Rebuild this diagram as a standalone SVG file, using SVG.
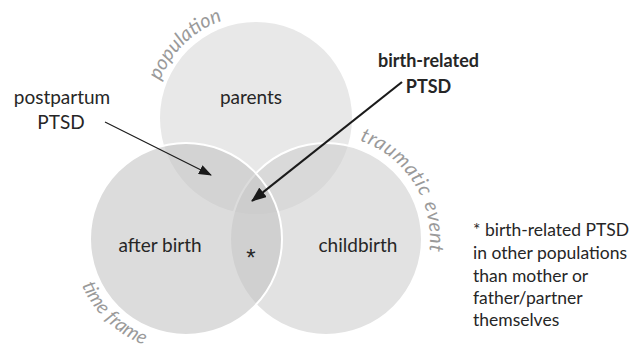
<svg xmlns="http://www.w3.org/2000/svg" width="641" height="348" viewBox="0 0 641 348">
<style>
.lbl{font-family:Lato,"Open Sans","Liberation Sans",sans-serif;font-size:19px;fill:#262626;text-anchor:middle}
.bold{font-weight:bold;font-size:18px}
.note{font-family:Lato,"Open Sans","Liberation Sans",sans-serif;font-size:17.5px;fill:#262626}
.cat{font-family:Lato,"Open Sans","Liberation Sans",sans-serif;font-size:20px;font-style:italic;fill:#9a9a9a}
.arrow{fill:none;stroke:#1a1a1a}
</style>
<defs>
<path id="pPop" d="M154.6,100.1 A103,103 0 0 1 256,15"/>
<path id="pTrauma" d="M344.1,136.6 A104,104 0 0 1 423.7,274.6"/>
<path id="pTime" d="M75.9,268.5 A114,114 0 0 0 186,353"/>
<marker id="headThin" markerUnits="userSpaceOnUse" markerWidth="13" markerHeight="10" refX="12" refY="5" orient="auto">
<path d="M0,0 L13,5 L0,10 Z" fill="#1a1a1a"/>
</marker>
<marker id="headThick" markerUnits="userSpaceOnUse" markerWidth="15" markerHeight="12" refX="14" refY="6" orient="auto">
<path d="M0,0 L15,6 L0,12 Z" fill="#1a1a1a"/>
</marker>
</defs>
<g id="node-parents">
<circle cx="256" cy="118" r="96" fill="#e8e8e8"/>
<text class="lbl" x="251" y="104">parents</text>
</g>
<g id="node-childbirth">
<circle cx="326" cy="239" r="96" fill="#cfcfcf" fill-opacity="0.6" stroke="#ffffff" stroke-width="2"/>
<text class="lbl" x="358" y="252">childbirth</text>
</g>
<g id="node-afterbirth">
<circle cx="186" cy="239" r="96" fill="#c5c5c5" fill-opacity="0.6" stroke="#ffffff" stroke-width="2"/>
<text class="lbl" x="160" y="252">after birth</text>
</g>
<g id="node-star">
<text x="251" y="266" style="font-family:'Liberation Sans',sans-serif;font-size:24px;fill:#262626;text-anchor:middle">*</text>
</g>
<g id="dimension-labels">
<text class="cat"><textPath href="#pPop" startOffset="20">population</textPath></text>
<text class="cat" style="letter-spacing:0.6px"><textPath href="#pTrauma" startOffset="16">traumatic</textPath></text>
<text class="cat" style="letter-spacing:0.6px"><textPath href="#pTrauma" startOffset="109">event</textPath></text>
<text class="cat" style="font-size:19.5px"><textPath href="#pTime" startOffset="18">time frame</textPath></text>
</g>
<g id="node-postpartum">
<text class="lbl" x="62" y="104">postpartum</text>
<text class="lbl" x="61" y="129">PTSD</text>
</g>
<g id="node-birthrelated">
<text class="lbl bold" x="428.5" y="67">birth-related</text>
<text class="lbl bold" x="428.5" y="93">PTSD</text>
</g>
<g id="node-footnote">
<text class="note" x="473" y="236">* birth-related PTSD</text>
<text class="note" x="473" y="259">in other populations</text>
<text class="note" x="473" y="282">than mother or</text>
<text class="note" x="473" y="304">father/partner</text>
<text class="note" x="473" y="326">themselves</text>
</g>
<g id="connectors">
<line class="arrow" x1="105" y1="122" x2="211" y2="175" stroke-width="1.2" marker-end="url(#headThin)"/>
<line class="arrow" x1="402" y1="82" x2="252" y2="201" stroke-width="2.2" marker-end="url(#headThick)"/>
</g>
</svg>
